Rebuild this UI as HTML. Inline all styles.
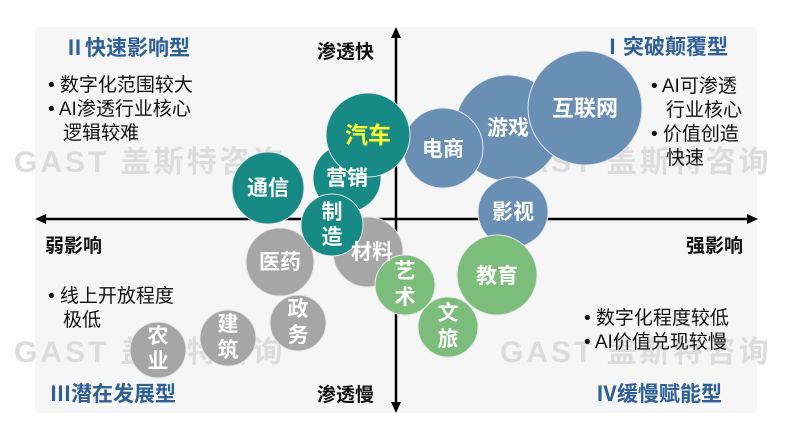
<!DOCTYPE html>
<html><head><meta charset="utf-8"><style>
html,body{margin:0;padding:0;background:#fff;}
svg{display:block;font-family:"Liberation Sans","Noto Sans CJK SC",sans-serif;}
</style></head><body>
<svg width="800" height="428" viewBox="0 0 800 428" xmlns="http://www.w3.org/2000/svg">
<rect x="35" y="27" width="722" height="386" fill="#f6f6f6"/>
<g fill="#dcdcdc" font-size="30" font-weight="bold" letter-spacing="3">
<text x="14" y="172">GAST 盖斯特咨询</text>
<text x="500" y="172">GAST 盖斯特咨询</text>
<text x="14" y="362">GAST 盖斯特咨询</text>
<text x="500" y="362">GAST 盖斯特咨询</text>
</g>
<g stroke="#000" stroke-width="2.5">
<line x1="42" y1="219" x2="752" y2="219"/>
<line x1="396" y1="34" x2="396" y2="406"/>
</g>
<g fill="#000">
<polygon points="35,219 46,214 46,224"/>
<polygon points="758,219 747,214 747,224"/>
<polygon points="396,27 391,38 401,38"/>
<polygon points="396,413 391,402 401,402"/>
</g>
<g font-weight="bold" font-size="19" fill="#111">
<text x="317" y="58">渗透快</text>
<text x="317" y="401">渗透慢</text>
<text x="45" y="252">弱影响</text>
<text x="686" y="252">强影响</text>
</g>
<g font-weight="bold" font-size="21" fill="#2e5f96">
<text x="64" y="55">Ⅱ快速影响型</text>
<text x="602" y="54">Ⅰ突破颠覆型</text>
<text x="50" y="401">Ⅲ潜在发展型</text>
<text x="596" y="401">Ⅳ缓慢赋能型</text>
</g>
<g font-size="19" fill="#111">
<text x="48" y="91">• 数字化范围较大</text>
<text x="48" y="115">• AI渗透行业核心</text>
<text x="63" y="139">逻辑较难</text>
<text x="651" y="92">• AI可渗透</text>
<text x="666" y="116">行业核心</text>
<text x="651" y="140">• 价值创造</text>
<text x="666" y="164">快速</text>
<text x="48" y="302">• 线上开放程度</text>
<text x="63" y="326">极低</text>
<text x="584" y="324">• 数字化程度较低</text>
<text x="584" y="348">• AI价值兑现较慢</text>
</g>
<g stroke="#e8e8e8" stroke-width="1">
<circle cx="158" cy="350" r="28" fill="#a6a6a6"/>
<circle cx="228" cy="338" r="28" fill="#a6a6a6"/>
<circle cx="298" cy="323" r="28" fill="#a6a6a6"/>
<circle cx="280" cy="262" r="34" fill="#a6a6a6"/>
<circle cx="368" cy="252" r="35" fill="#a6a6a6"/>
<circle cx="508" cy="128" r="53" fill="#6a8fb5"/>
<circle cx="585" cy="108" r="57" fill="#6a8fb5"/>
<circle cx="443" cy="148" r="40" fill="#6a8fb5"/>
<circle cx="513" cy="212" r="35" fill="#6a8fb5"/>
<circle cx="497" cy="275" r="40" fill="#7dbd7c"/>
<circle cx="405" cy="285" r="30" fill="#7dbd7c"/>
<circle cx="448" cy="327" r="30" fill="#7dbd7c"/>
<circle cx="268" cy="188" r="36" fill="#178a85"/>
<circle cx="347" cy="178" r="34" fill="#178a85"/>
<circle cx="368" cy="135" r="42" fill="#178a85"/>
<circle cx="332" cy="225" r="31" fill="#178a85"/>
</g>
<g font-weight="bold" fill="#fff" text-anchor="middle" font-size="21">
<text x="158" y="343">农</text><text x="158" y="368">业</text>
<text x="228" y="331">建</text><text x="228" y="357">筑</text>
<text x="298" y="316">政</text><text x="298" y="342">务</text>
<text x="280" y="269">医药</text>
<text x="372" y="259">材料</text>
<text x="585" y="116" font-size="22">互联网</text>
<text x="508" y="135">游戏</text>
<text x="443" y="156">电商</text>
<text x="513" y="219">影视</text>
<text x="497" y="283">教育</text>
<text x="405" y="278">艺</text><text x="405" y="304">术</text>
<text x="448" y="320">文</text><text x="448" y="346">旅</text>
<text x="268" y="195">通信</text>
<text x="347" y="185">营销</text>
<text x="368" y="143" fill="#ffff33" font-size="23">汽车</text>
<text x="332" y="219">制</text><text x="332" y="244">造</text>
</g>
</svg>
</body></html>
